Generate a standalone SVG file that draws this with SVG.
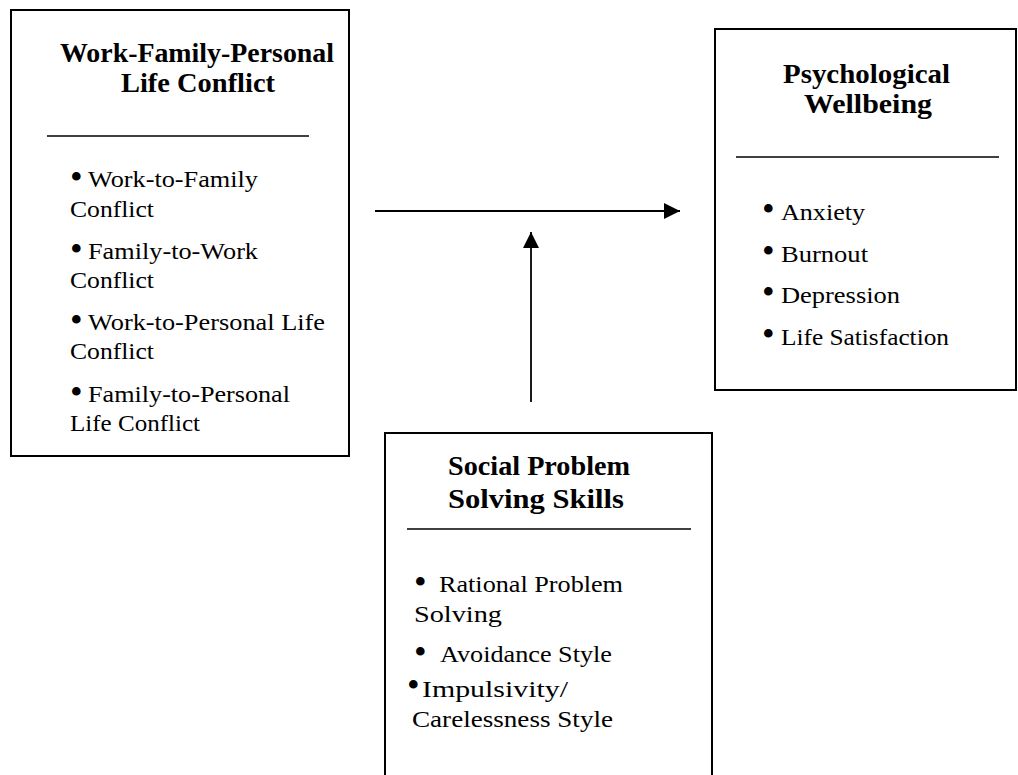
<svg xmlns="http://www.w3.org/2000/svg" width="1018" height="775" viewBox="0 0 1018 775">
<style>
  .box { fill: #ffffff; stroke: #000000; stroke-width: 2; }
  .sep { stroke: #000000; stroke-width: 1.6; }
  .title { font-family: "Liberation Serif", "Times New Roman", serif; font-weight: bold; font-size: 27px; fill: #000000; }
  .body { font-family: "Liberation Serif", "Times New Roman", serif; font-size: 23px; fill: #000000; }
  .b { font-size: 36px; }
  .conn { stroke: #000000; stroke-width: 1.8; fill: none; }
</style>
<defs>
  <marker id="arrow" viewBox="0 0 16 16" refX="16" refY="8" markerWidth="16" markerHeight="16" markerUnits="userSpaceOnUse" orient="auto">
    <path d="M0,0 L16,8 L0,16 Z" fill="#000000"/>
  </marker>
</defs>
<rect width="1018" height="775" fill="#ffffff"/>

<g id="node-conflict">
  <rect class="box" x="11" y="10" width="338" height="446"/>
  <text class="title" x="60" y="62" textLength="274" lengthAdjust="spacingAndGlyphs">Work-Family-Personal</text>
  <text class="title" x="121" y="92" textLength="154" lengthAdjust="spacingAndGlyphs">Life Conflict</text>
  <line class="sep" x1="47" y1="136" x2="309" y2="136"/>
  <text class="body" x="70" y="189"><tspan class="b">•</tspan><tspan x="88" y="187" textLength="170" lengthAdjust="spacingAndGlyphs">Work-to-Family</tspan></text>
  <text class="body" x="70" y="217" textLength="84" lengthAdjust="spacingAndGlyphs">Conflict</text>
  <text class="body" x="70" y="261"><tspan class="b">•</tspan><tspan x="88" y="259" textLength="170" lengthAdjust="spacingAndGlyphs">Family-to-Work</tspan></text>
  <text class="body" x="70" y="288" textLength="84" lengthAdjust="spacingAndGlyphs">Conflict</text>
  <text class="body" x="70" y="332"><tspan class="b">•</tspan><tspan x="88" y="330" textLength="237" lengthAdjust="spacingAndGlyphs">Work-to-Personal Life</tspan></text>
  <text class="body" x="70" y="359" textLength="84" lengthAdjust="spacingAndGlyphs">Conflict</text>
  <text class="body" x="70" y="404"><tspan class="b">•</tspan><tspan x="88" y="402" textLength="202" lengthAdjust="spacingAndGlyphs">Family-to-Personal</tspan></text>
  <text class="body" x="70" y="431" textLength="130" lengthAdjust="spacingAndGlyphs">Life Conflict</text>
</g>

<g id="node-wellbeing">
  <rect class="box" x="715" y="29" width="301" height="361"/>
  <text class="title" x="783" y="83" textLength="167" lengthAdjust="spacingAndGlyphs">Psychological</text>
  <text class="title" x="804" y="113" textLength="128" lengthAdjust="spacingAndGlyphs">Wellbeing</text>
  <line class="sep" x1="736" y1="157" x2="999" y2="157"/>
  <text class="body" x="762" y="221"><tspan class="b">•</tspan><tspan x="781" y="220" textLength="84" lengthAdjust="spacingAndGlyphs">Anxiety</tspan></text>
  <text class="body" x="762" y="263"><tspan class="b">•</tspan><tspan x="781" y="262" textLength="87" lengthAdjust="spacingAndGlyphs">Burnout</tspan></text>
  <text class="body" x="762" y="304"><tspan class="b">•</tspan><tspan x="781" y="303" textLength="119" lengthAdjust="spacingAndGlyphs">Depression</tspan></text>
  <text class="body" x="762" y="346"><tspan class="b">•</tspan><tspan x="781" y="345" textLength="168" lengthAdjust="spacingAndGlyphs">Life Satisfaction</tspan></text>
</g>

<g id="node-skills">
  <rect class="box" x="385" y="433" width="327" height="360"/>
  <text class="title" x="448" y="475" textLength="182" lengthAdjust="spacingAndGlyphs">Social Problem</text>
  <text class="title" x="448" y="508" textLength="176" lengthAdjust="spacingAndGlyphs">Solving Skills</text>
  <line class="sep" x1="407" y1="529" x2="691" y2="529"/>
  <text class="body" x="414" y="594"><tspan class="b">•</tspan><tspan x="439" y="592" textLength="184" lengthAdjust="spacingAndGlyphs">Rational Problem</tspan></text>
  <text class="body" x="414" y="622" textLength="88" lengthAdjust="spacingAndGlyphs">Solving</text>
  <text class="body" x="414" y="664"><tspan class="b">•</tspan><tspan x="440" y="662" textLength="172" lengthAdjust="spacingAndGlyphs">Avoidance Style</tspan></text>
  <text class="body" x="407" y="697"><tspan class="b">•</tspan><tspan x="422" y="697" textLength="146" lengthAdjust="spacingAndGlyphs">Impulsivity/</tspan></text>
  <text class="body" x="412" y="727" textLength="201" lengthAdjust="spacingAndGlyphs">Carelessness Style</text>
</g>

<g id="connectors">
  <line class="conn" x1="375" y1="211" x2="680" y2="211" marker-end="url(#arrow)"/>
  <line class="conn" x1="531" y1="402" x2="531" y2="232" marker-end="url(#arrow)"/>
</g>
</svg>
